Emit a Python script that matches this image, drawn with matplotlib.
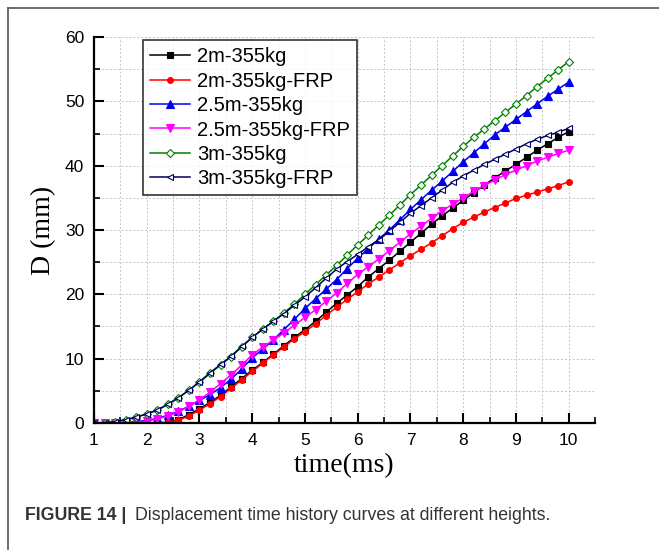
import numpy as np
import matplotlib.pyplot as plt
from matplotlib.ticker import MultipleLocator
from matplotlib.lines import Line2D

# time axis (ms), samples every 0.2 ms
time_ms = [1.0, 1.2, 1.4, 1.6, 1.8, 2.0, 2.2, 2.4, 2.6, 2.8,
           3.0, 3.2, 3.4, 3.6, 3.8, 4.0, 4.2, 4.4, 4.6, 4.8,
           5.0, 5.2, 5.4, 5.6, 5.8, 6.0, 6.2, 6.4, 6.6, 6.8,
           7.0, 7.2, 7.4, 7.6, 7.8, 8.0, 8.2, 8.4, 8.6, 8.8,
           9.0, 9.2, 9.4, 9.6, 9.8, 10.0]

d_2m = [0, 0, 0, 0, 0, 0, 0, 0.1, 0.5, 1.3,
        2.2, 3.2, 4.3, 5.6, 6.9, 8.2, 9.4, 10.7, 12.0, 13.3,
        14.5, 15.8, 17.2, 18.6, 19.9, 21.2, 22.7, 24.0, 25.3, 26.7,
        28.1, 29.5, 30.9, 32.2, 33.4, 34.6, 35.8, 37.0, 38.1, 39.2,
        40.2, 41.3, 42.4, 43.4, 44.4, 45.3]
d_2m_frp = [0, 0, 0, 0, 0, 0, 0, 0.1, 0.4, 1.1,
            2.0, 3.0, 4.1, 5.4, 6.7, 8.0, 9.3, 10.6, 11.8, 13.1,
            14.2, 15.4, 16.7, 18.0, 19.2, 20.4, 21.6, 22.7, 23.8, 24.9,
            26.0, 27.0, 28.0, 29.1, 30.2, 31.2, 32.0, 32.8, 33.5, 34.2,
            34.9, 35.4, 35.9, 36.4, 36.9, 37.5]
d_25m = [0, 0, 0, 0.05, 0.2, 0.4, 0.7, 1.2, 1.8, 2.6,
         3.5, 4.4, 5.5, 6.8, 8.4, 10.1, 11.5, 12.9, 14.5, 16.1,
         17.8, 19.3, 20.8, 22.3, 24.0, 25.6, 27.1, 28.6, 30.0, 31.6,
         33.2, 34.7, 36.2, 37.6, 39.1, 40.6, 42.0, 43.4, 44.8, 46.0,
         47.2, 48.4, 49.6, 50.8, 51.9, 53.0]
d_25m_frp = [0, 0, 0, 0.05, 0.1, 0.3, 0.6, 1.1, 1.7, 2.6,
             3.6, 4.8, 6.1, 7.5, 9.0, 10.6, 11.8, 12.9, 14.0, 15.2,
             16.4, 17.6, 18.9, 20.2, 21.7, 23.1, 24.3, 25.5, 26.8, 28.1,
             29.4, 30.6, 31.8, 33.0, 34.0, 35.0, 36.0, 36.9, 37.8, 38.6,
             39.3, 40.0, 40.7, 41.3, 41.9, 42.4]
d_3m = [0, 0.05, 0.2, 0.5, 0.9, 1.4, 2.0, 2.9, 3.9, 5.1,
        6.3, 7.7, 9.0, 10.3, 11.8, 13.3, 14.6, 15.8, 17.1, 18.5,
        20.0, 21.5, 23.0, 24.5, 26.1, 27.7, 29.2, 30.8, 32.3, 33.9,
        35.5, 37.0, 38.5, 40.0, 41.5, 43.0, 44.4, 45.7, 47.0, 48.3,
        49.6, 50.9, 52.3, 53.6, 54.9, 56.2]
d_3m_frp = [0, 0.05, 0.2, 0.5, 0.9, 1.4, 2.0, 2.9, 3.9, 5.1,
            6.4, 7.8, 9.1, 10.4, 11.9, 13.3, 14.6, 15.8, 17.0, 18.3,
            19.6, 21.0, 22.5, 23.9, 25.1, 26.2, 27.4, 28.5, 29.8, 31.2,
            32.6, 33.8, 35.0, 36.2, 37.4, 38.4, 39.3, 40.2, 41.0, 41.8,
            42.6, 43.4, 44.1, 44.7, 45.2, 45.8]

labels = ['2m-355kg', '2m-355kg-FRP', '2.5m-355kg', '2.5m-355kg-FRP',
          '3m-355kg', '3m-355kg-FRP']

series = [d_2m, d_2m_frp, d_25m, d_25m_frp, d_3m, d_3m_frp]
styles = [
    dict(color='black', marker='s', ms=4.2, mfc='black'),
    dict(color='#ff0000', marker='o', ms=4.2, mfc='#ff0000'),
    dict(color='#0000ee', marker='^', ms=5.2, mfc='#0000ee'),
    dict(color='#ff00ff', marker='v', ms=5.2, mfc='#ff00ff'),
    dict(color='#008000', marker='D', ms=3.8, mfc='white'),
    dict(color='#000060', marker='<', ms=4.8, mfc='white'),
]

fig = plt.figure(figsize=(6.59, 5.5), dpi=100)
ax = fig.add_axes([0.1426, 0.231, 0.7604, 0.7016])

for y, lab, st in zip(series, labels, styles):
    ax.plot(time_ms, y, lw=1.1, label=lab, markeredgewidth=0.8,
            markeredgecolor=st['color'], **st)

ax.set_xlim(1, 10.5)
ax.set_ylim(0, 60)
ax.xaxis.set_major_locator(MultipleLocator(1))
ax.xaxis.set_minor_locator(MultipleLocator(0.5))
ax.yaxis.set_major_locator(MultipleLocator(10))
ax.yaxis.set_minor_locator(MultipleLocator(5))
ax.grid(which='both', color='#c4c4c4', ls=(0, (2, 2)), lw=0.7)
ax.set_axisbelow(True)

for s in ['top', 'right']:
    ax.spines[s].set_visible(False)
for s in ['left', 'bottom']:
    ax.spines[s].set_linewidth(1.6)

ax.tick_params(which='major', direction='in', length=7, width=1.5,
               labelsize=12.5, pad=7)
ax.tick_params(which='minor', direction='in', length=4, width=1.2)
for t in ax.get_xticklabels() + ax.get_yticklabels():
    t.set_fontfamily('Liberation Sans')

ax.set_xlabel('time(ms)', fontfamily='Liberation Serif', fontsize=20, labelpad=4)
ax.set_ylabel('D (mm)', fontfamily='Liberation Serif', fontsize=20, labelpad=6)

leg = ax.legend(loc='upper left', bbox_to_anchor=(0.098, 0.992),
                prop={'family': 'Liberation Sans', 'size': 14.5},
                frameon=True, fancybox=False, edgecolor='black',
                handlelength=2.0, borderpad=0.35, labelspacing=0.27,
                handletextpad=0.35, borderaxespad=0.0)
leg.get_frame().set_linewidth(1.2)

# outer frame lines (left and top)
fig.add_artist(Line2D([8 / 659, 8 / 659], [0, 1 - 8 / 550], color='#555555', lw=1.2))
fig.add_artist(Line2D([8 / 659, 1], [1 - 8 / 550, 1 - 8 / 550], color='#555555', lw=1.2))

fig.text(25 / 659, 1 - 515 / 550, 'FIGURE 14 |', fontfamily='Liberation Sans',
         fontweight='bold', fontsize=12.8, color='#333333', va='center')
fig.text(135 / 659, 1 - 515 / 550,
         'Displacement time history curves at different heights.',
         fontfamily='Liberation Sans', fontsize=12.8, color='#333333', va='center')

fig.savefig('out.png', dpi=100)
